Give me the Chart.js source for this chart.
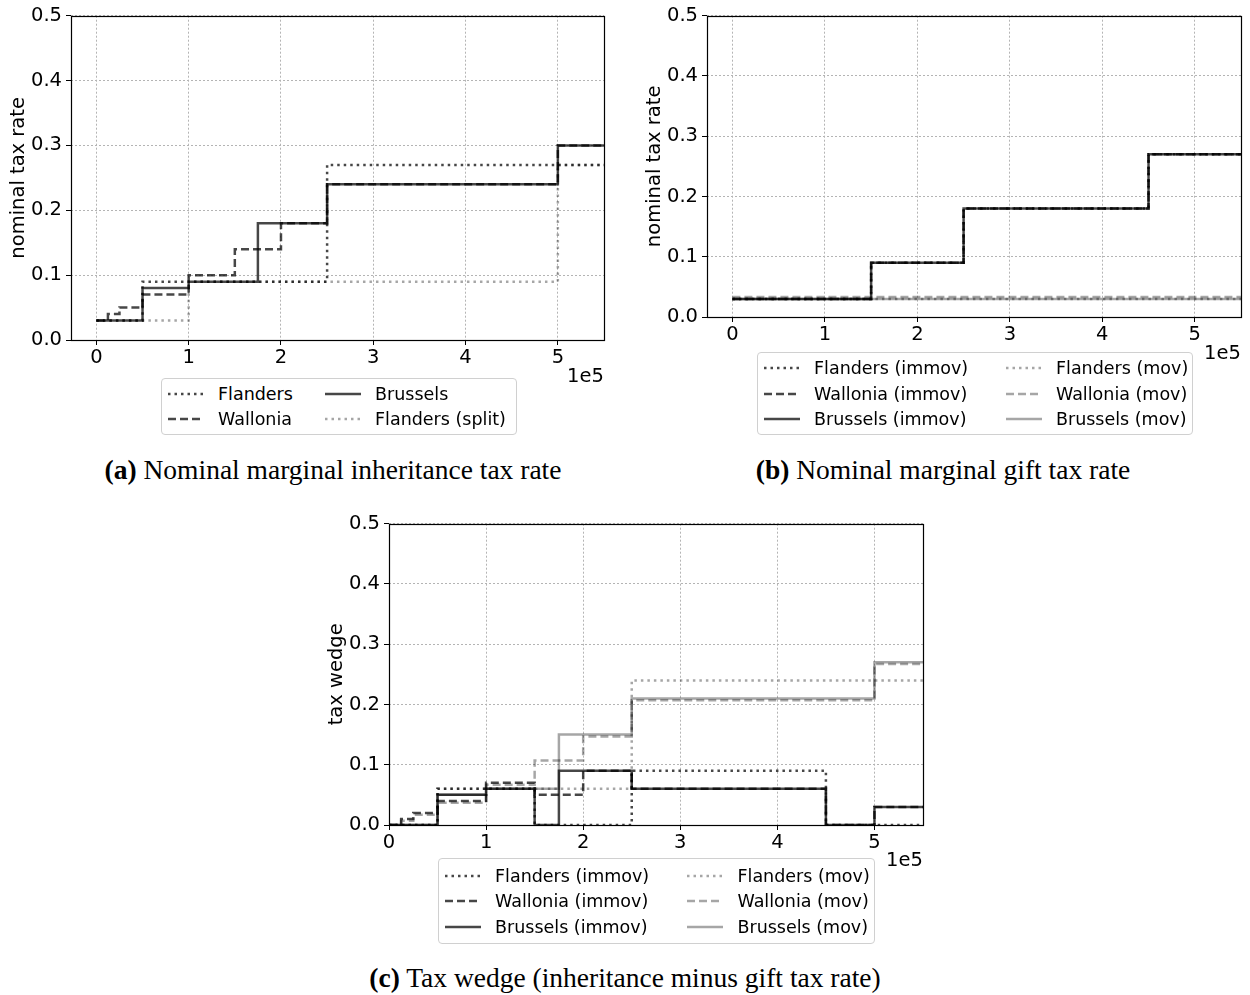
<!DOCTYPE html>
<html>
<head>
<meta charset="utf-8">
<script src="https://cdn.jsdelivr.net/npm/chart.js@4.4.0/dist/chart.umd.min.js"></script>
<style>
  html, body { margin: 0; padding: 0; background: #fff; }
  body { width: 1250px; height: 995px; position: relative; overflow: hidden; font-family: "DejaVu Sans", sans-serif; }
  .cv { position: absolute; }
  .legend { position: absolute; box-sizing: border-box; border: 1px solid #d0d0d0; border-radius: 4px; background: #fff;
            display: grid; grid-auto-flow: column; align-content: center; font-size: 17.5px; color: #000; }
  .item { display: flex; align-items: center; height: 25.5px; white-space: nowrap; }
  .item svg { margin-right: 14px; flex: none; }
  .offset { position: absolute; font-size: 19.5px; color: #000; }
  .cap { position: absolute; font-family: "Liberation Serif", "DejaVu Serif", serif; font-size: 27.5px; color: #000; white-space: nowrap; transform: translateX(-50%); }
</style>
</head>
<body>
<canvas id="ca" class="cv"></canvas>
<canvas id="cb" class="cv"></canvas>
<canvas id="cc" class="cv"></canvas>

<div class="offset" style="left:567px; top:364px;">1e5</div>
<div class="offset" style="left:1204px; top:341px;">1e5</div>
<div class="offset" style="left:886px; top:848px;">1e5</div>

<div class="cap" style="left:333px; top:454px;"><b>(a)</b> Nominal marginal inheritance tax rate</div>
<div class="cap" style="left:943px; top:454px;"><b>(b)</b> Nominal marginal gift tax rate</div>
<div class="cap" style="left:625px; top:962px;"><b>(c)</b> Tax wedge (inheritance minus gift tax rate)</div>

<script>
// ---------------- data ----------------
const xTickValues = [0, 100000, 200000, 300000, 400000, 500000];
const xTickLabels = ['0', '1', '2', '3', '4', '5'];
const yTickValues = [0, 0.1, 0.2, 0.3, 0.4, 0.5];
const yTickLabels = ['0.0', '0.1', '0.2', '0.3', '0.4', '0.5'];

// (a) inheritance tax: bracket starts and marginal rates
const inhFlandersX = [0, 50000, 250000, 550000];
const inhFlandersY = [0.03, 0.09, 0.27, 0.27];
const inhWalloniaX = [0, 12500, 25000, 50000, 100000, 150000, 200000, 250000, 500000, 550000];
const inhWalloniaY = [0.03, 0.04, 0.05, 0.07, 0.10, 0.14, 0.18, 0.24, 0.30, 0.30];
const inhBrusselsX = [0, 50000, 100000, 175000, 250000, 500000, 550000];
const inhBrusselsY = [0.03, 0.08, 0.09, 0.18, 0.24, 0.30, 0.30];
const inhFlandersSplitX = [0, 100000, 500000, 550000];
const inhFlandersSplitY = [0.03, 0.09, 0.27, 0.27];

// (b) gift tax
const giftImmovX = [0, 150000, 250000, 450000, 550000];
const giftFlandersImmovY = [0.03, 0.09, 0.18, 0.27, 0.27];
const giftWalloniaImmovY = [0.03, 0.09, 0.18, 0.27, 0.27];
const giftBrusselsImmovY = [0.03, 0.09, 0.18, 0.27, 0.27];
const giftMovX = [0, 550000];
const giftFlandersMovY = [0.03, 0.03];
const giftWalloniaMovY = [0.033, 0.033];
const giftBrusselsMovY = [0.03, 0.03];

// (c) tax wedge
const wedgeFlandersImmovX = [0, 50000, 150000, 250000, 450000, 550000];
const wedgeFlandersImmovY = [0, 0.06, 0, 0.09, 0, 0];
const wedgeWalloniaImmovX = [0, 12500, 25000, 50000, 100000, 150000, 200000, 250000, 450000, 500000, 550000];
const wedgeWalloniaImmovY = [0, 0.01, 0.02, 0.04, 0.07, 0.05, 0.09, 0.06, 0, 0.03, 0.03];
const wedgeBrusselsImmovX = [0, 50000, 100000, 150000, 175000, 250000, 450000, 500000, 550000];
const wedgeBrusselsImmovY = [0, 0.05, 0.06, 0, 0.09, 0.06, 0, 0.03, 0.03];
const wedgeFlandersMovX = [0, 50000, 250000, 550000];
const wedgeFlandersMovY = [0, 0.06, 0.24, 0.24];
const wedgeWalloniaMovX = [0, 12500, 25000, 50000, 100000, 150000, 200000, 250000, 500000, 550000];
const wedgeWalloniaMovY = [0, 0.007, 0.017, 0.037, 0.067, 0.107, 0.147, 0.207, 0.267, 0.267];
const wedgeBrusselsMovX = [0, 50000, 100000, 175000, 250000, 500000, 550000];
const wedgeBrusselsMovY = [0, 0.05, 0.06, 0.15, 0.21, 0.27, 0.27];

// ---------------- styles ----------------
const DARK = 'rgba(0,0,0,0.72)';
const LIGHT = 'rgba(0,0,0,0.35)';
const DOT = [2.5, 4];
const DASH = [8, 4];
const SOLID = [];

Chart.defaults.font.family = '"DejaVu Sans", sans-serif';
Chart.defaults.font.size = 19.5;
Chart.defaults.color = '#000';
Chart.defaults.animation = false;

function pts(xs, ys) { return xs.map((x, i) => ({ x: x, y: ys[i] })); }
function ds(label, xs, ys, color, dash) {
  return { label, data: pts(xs, ys), borderColor: color, borderDash: dash, borderWidth: 2.5,
           borderCapStyle: 'butt', pointRadius: 0, stepped: 'before', fill: false, tension: 0 };
}

const framePlugin = {
  id: 'frame',
  afterDraw(chart) {
    const a = chart.chartArea, ctx = chart.ctx;
    ctx.save();
    ctx.strokeStyle = '#000';
    ctx.lineWidth = 1.2;
    ctx.strokeRect(Math.round(a.left) + 0.5, Math.round(a.top) + 0.5,
                   Math.round(a.right - a.left), Math.round(a.bottom - a.top));
    ctx.restore();
  }
};

function makeChart(id, pos, datasets, xmin, yTitle) {
  const cv = document.getElementById(id);
  cv.style.left = pos.left + 'px';
  cv.style.top = pos.top + 'px';
  cv.width = pos.width; cv.height = pos.height;
  cv.style.width = pos.width + 'px'; cv.style.height = pos.height + 'px';
  return new Chart(cv, {
    type: 'line',
    data: { datasets },
    plugins: [framePlugin],
    options: {
      responsive: false,
      devicePixelRatio: 1,
      animation: false,
      layout: { padding: { top: pos.padTop, right: pos.padRight, left: 0, bottom: 0 } },
      plugins: { legend: { display: false }, tooltip: { enabled: false } },
      scales: {
        x: {
          type: 'linear', min: xmin, max: 550000,
          afterFit: s => { s.height = 32; },
          afterBuildTicks: s => { s.ticks = xTickValues.map(v => ({ value: v })); },
          ticks: { callback: v => xTickLabels[xTickValues.indexOf(v)], padding: 1, maxRotation: 0, autoSkip: false, font: { size: 19.5 } },
          grid: { color: '#b4b4b4', lineWidth: 1, tickColor: '#000', tickLength: 5, tickWidth: 1 },
          border: { display: false, dash: [2, 2] }
        },
        y: {
          type: 'linear', min: 0, max: 0.5,
          afterFit: s => { s.width = 71; },
          afterBuildTicks: s => { s.ticks = yTickValues.map(v => ({ value: v })); },
          ticks: { callback: v => yTickLabels[yTickValues.findIndex(t => Math.abs(t - v) < 1e-9)], padding: 4, autoSkip: false, font: { size: 19.5 } },
          grid: { color: '#b4b4b4', lineWidth: 1, tickColor: '#000', tickLength: 5, tickWidth: 1 },
          border: { display: false, dash: [2, 2] },
          title: { display: true, text: yTitle, font: { size: 19.5 }, padding: { top: 7, bottom: 0 } }
        }
      }
    }
  });
}

const dsA = [
  ds('Flanders', inhFlandersX, inhFlandersY, DARK, DOT),
  ds('Wallonia', inhWalloniaX, inhWalloniaY, DARK, DASH),
  ds('Brussels', inhBrusselsX, inhBrusselsY, DARK, SOLID),
  ds('Flanders (split)', inhFlandersSplitX, inhFlandersSplitY, LIGHT, DOT)
];
const dsB = [
  ds('Flanders (immov)', giftImmovX, giftFlandersImmovY, DARK, DOT),
  ds('Wallonia (immov)', giftImmovX, giftWalloniaImmovY, DARK, DASH),
  ds('Brussels (immov)', giftImmovX, giftBrusselsImmovY, DARK, SOLID),
  ds('Flanders (mov)', giftMovX, giftFlandersMovY, LIGHT, DOT),
  ds('Wallonia (mov)', giftMovX, giftWalloniaMovY, LIGHT, DASH),
  ds('Brussels (mov)', giftMovX, giftBrusselsMovY, LIGHT, SOLID)
];
const dsC = [
  ds('Flanders (immov)', wedgeFlandersImmovX, wedgeFlandersImmovY, DARK, DOT),
  ds('Wallonia (immov)', wedgeWalloniaImmovX, wedgeWalloniaImmovY, DARK, DASH),
  ds('Brussels (immov)', wedgeBrusselsImmovX, wedgeBrusselsImmovY, DARK, SOLID),
  ds('Flanders (mov)', wedgeFlandersMovX, wedgeFlandersMovY, LIGHT, DOT),
  ds('Wallonia (mov)', wedgeWalloniaMovX, wedgeWalloniaMovY, LIGHT, DASH),
  ds('Brussels (mov)', wedgeBrusselsMovX, wedgeBrusselsMovY, LIGHT, SOLID)
];
// matplotlib draws later series on top
[dsA, dsB, dsC].forEach(arr => arr.forEach((d, i) => { d.order = arr.length - i; }));

makeChart('ca', { left: 0, top: 0, width: 624, height: 372, padTop: 11, padRight: 20 }, dsA, -27500, 'nominal tax rate');
makeChart('cb', { left: 636, top: 0, width: 614, height: 349, padTop: 15, padRight: 9 }, dsB, -27500, 'nominal tax rate');
makeChart('cc', { left: 318, top: 508, width: 620, height: 349, padTop: 15, padRight: 15 }, dsC, 0, 'tax wedge');

// ---------------- legends (HTML) ----------------
function makeLegend(datasets, box, rows, colGap) {
  const div = document.createElement('div');
  div.className = 'legend';
  div.style.left = box.left + 'px'; div.style.top = box.top + 'px';
  div.style.width = box.width + 'px'; div.style.height = box.height + 'px';
  div.style.gridTemplateRows = 'repeat(' + rows + ', 25.5px)';
  div.style.columnGap = colGap + 'px';
  div.style.paddingLeft = '6px';
  datasets.forEach(d => {
    const it = document.createElement('div');
    it.className = 'item';
    const svgNS = 'http://www.w3.org/2000/svg';
    const svg = document.createElementNS(svgNS, 'svg');
    svg.setAttribute('width', '36'); svg.setAttribute('height', '10');
    const ln = document.createElementNS(svgNS, 'line');
    ln.setAttribute('x1', '0'); ln.setAttribute('x2', '36');
    ln.setAttribute('y1', '5'); ln.setAttribute('y2', '5');
    ln.setAttribute('stroke', d.borderColor);
    ln.setAttribute('stroke-width', '2.5');
    if (d.borderDash.length) ln.setAttribute('stroke-dasharray', d.borderDash.join(' '));
    svg.appendChild(ln);
    it.appendChild(svg);
    const sp = document.createElement('span');
    sp.textContent = d.label;
    it.appendChild(sp);
    div.appendChild(it);
  });
  document.body.appendChild(div);
}
makeLegend(dsA, { left: 161, top: 378, width: 356, height: 57 }, 2, 22);
makeLegend(dsB, { left: 757, top: 352, width: 436, height: 83 }, 3, 34);
makeLegend(dsC, { left: 438, top: 858, width: 437, height: 86 }, 3, 34);
</script>
</body>
</html>
